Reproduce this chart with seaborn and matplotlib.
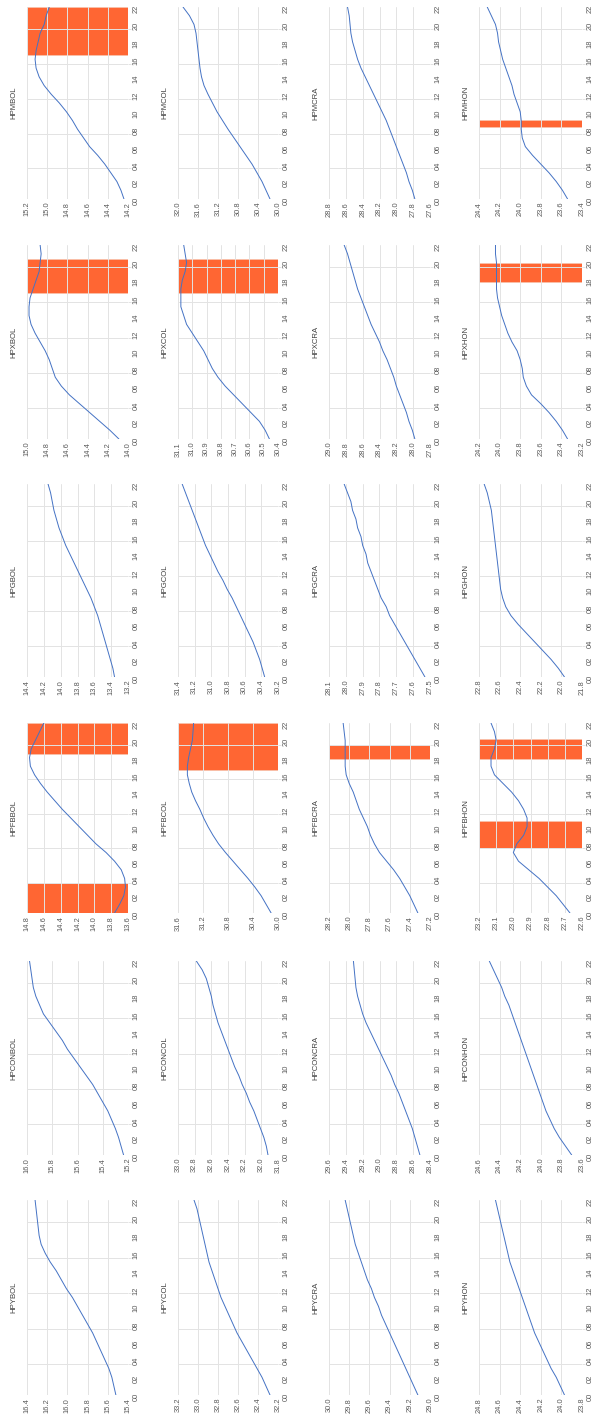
import numpy as np
import matplotlib
matplotlib.use("Agg")
import matplotlib.pyplot as plt
import seaborn as sns

sns.set_theme(style="white")
plt.rcParams["font.family"] = ["Liberation Sans", "DejaVu Sans"]

HOURS = list(range(23))
HOUR_LABELS = [f"{h:02d}" for h in range(0, 23, 2)]

# hourly series, BOL
HPYBOL = [15.52, 15.54, 15.56, 15.59, 15.63, 15.67, 15.71, 15.75, 15.80, 15.85, 15.90, 15.95,
          16.01, 16.06, 16.11, 16.17, 16.22, 16.26, 16.28, 16.29, 16.30, 16.31, 16.32]
HPCONBOL = [15.235, 15.255, 15.275, 15.30, 15.33, 15.36, 15.40, 15.44, 15.48, 15.53, 15.58, 15.63,
            15.68, 15.72, 15.77, 15.82, 15.87, 15.90, 15.93, 15.95, 15.96, 15.97, 15.98]
HPFBBOL = [13.76, 13.70, 13.65, 13.63, 13.64, 13.68, 13.76, 13.86, 13.98, 14.08, 14.18, 14.28,
           14.38, 14.47, 14.56, 14.64, 14.71, 14.76, 14.77, 14.75, 14.70, 14.65, 14.60]
HPGBOL = [13.36, 13.38, 13.41, 13.44, 13.47, 13.50, 13.53, 13.56, 13.60, 13.64, 13.69, 13.74,
          13.79, 13.84, 13.89, 13.94, 13.98, 14.02, 14.05, 14.08, 14.10, 14.12, 14.15]
HPXBOL = [14.09, 14.18, 14.28, 14.38, 14.48, 14.58, 14.66, 14.72, 14.75, 14.78, 14.82, 14.87,
          14.92, 14.96, 14.98, 14.98, 14.97, 14.94, 14.91, 14.88, 14.87, 14.86, 14.87]
HPMBOL = [14.24, 14.27, 14.31, 14.37, 14.43, 14.50, 14.58, 14.64, 14.70, 14.75, 14.81, 14.88,
          14.96, 15.03, 15.08, 15.11, 15.12, 15.11, 15.09, 15.07, 15.03, 15.01, 14.98]

# hourly series, COL
HPYCOL = [32.28, 32.32, 32.36, 32.41, 32.46, 32.51, 32.56, 32.61, 32.65, 32.69, 32.73, 32.77,
          32.80, 32.83, 32.86, 32.89, 32.91, 32.93, 32.95, 32.97, 32.99, 33.01, 33.04]
HPCONCOL = [31.92, 31.94, 31.97, 32.01, 32.05, 32.09, 32.14, 32.18, 32.23, 32.27, 32.32, 32.36,
            32.40, 32.44, 32.48, 32.52, 32.55, 32.58, 32.60, 32.63, 32.66, 32.71, 32.78]
HPFBCOL = [30.11, 30.19, 30.27, 30.37, 30.48, 30.60, 30.72, 30.84, 30.95, 31.04, 31.12, 31.19,
           31.25, 31.32, 31.38, 31.42, 31.45, 31.45, 31.43, 31.40, 31.37, 31.36, 31.35]
HPGCOL = [30.36, 30.39, 30.42, 30.46, 30.50, 30.55, 30.60, 30.65, 30.70, 30.75, 30.81, 30.86,
          30.92, 30.97, 31.02, 31.07, 31.11, 31.15, 31.19, 31.23, 31.27, 31.31, 31.35]
HPXCOL = [30.46, 30.49, 30.53, 30.59, 30.65, 30.71, 30.77, 30.82, 30.86, 30.89, 30.92, 30.96,
          31.00, 31.04, 31.06, 31.08, 31.08, 31.08, 31.07, 31.05, 31.04, 31.05, 31.06]
HPMCOL = [30.16, 30.24, 30.32, 30.42, 30.52, 30.64, 30.76, 30.88, 31.00, 31.11, 31.22, 31.31,
          31.40, 31.48, 31.53, 31.56, 31.58, 31.60, 31.62, 31.64, 31.68, 31.77, 31.90]

# hourly series, CRA
HPYCRA = [29.12, 29.16, 29.20, 29.24, 29.28, 29.32, 29.36, 29.40, 29.44, 29.48, 29.51, 29.55,
          29.58, 29.62, 29.65, 29.68, 29.71, 29.74, 29.76, 29.78, 29.80, 29.82, 29.84]
HPCONCRA = [28.52, 28.55, 28.58, 28.61, 28.65, 28.69, 28.73, 28.77, 28.82, 28.86, 28.91, 28.96,
            29.01, 29.06, 29.11, 29.16, 29.20, 29.23, 29.26, 29.28, 29.29, 29.30, 29.31]
HPFBCRA = [27.32, 27.36, 27.40, 27.45, 27.50, 27.56, 27.63, 27.70, 27.75, 27.79, 27.82, 27.86,
           27.90, 27.93, 27.96, 28.00, 28.03, 28.04, 28.04, 28.04, 28.04, 28.05, 28.06]
HPGCRA = [27.53, 27.56, 27.59, 27.62, 27.65, 27.68, 27.71, 27.74, 27.76, 27.79, 27.81, 27.83,
          27.85, 27.87, 27.88, 27.90, 27.91, 27.93, 27.94, 27.96, 27.97, 27.99, 28.01]
HPXCRA = [27.98, 28.01, 28.05, 28.08, 28.12, 28.16, 28.20, 28.23, 28.27, 28.31, 28.36, 28.40,
          28.45, 28.50, 28.54, 28.58, 28.62, 28.66, 28.69, 28.72, 28.75, 28.78, 28.82]
HPMCRA = [27.78, 27.81, 27.85, 27.88, 27.92, 27.96, 28.00, 28.04, 28.08, 28.12, 28.17, 28.22,
          28.27, 28.32, 28.37, 28.42, 28.46, 28.49, 28.52, 28.54, 28.55, 28.56, 28.58]

# hourly series, HON
HPYHON = [23.97, 24.01, 24.05, 24.10, 24.14, 24.18, 24.22, 24.26, 24.29, 24.32, 24.35, 24.38,
          24.41, 24.44, 24.47, 24.50, 24.52, 24.54, 24.56, 24.58, 24.60, 24.62, 24.64]
HPCONHON = [23.70, 23.76, 23.82, 23.87, 23.91, 23.95, 23.98, 24.01, 24.04, 24.07, 24.10, 24.13,
            24.16, 24.19, 24.22, 24.25, 24.28, 24.31, 24.35, 24.38, 24.42, 24.46, 24.50]
HPFBHON = [22.67, 22.71, 22.75, 22.80, 22.85, 22.91, 22.97, 23.00, 22.98, 22.94, 22.92, 22.92,
           22.94, 22.97, 23.01, 23.06, 23.11, 23.13, 23.13, 23.11, 23.10, 23.11, 23.13]
HPGHON = [21.97, 22.03, 22.10, 22.18, 22.26, 22.34, 22.42, 22.49, 22.54, 22.57, 22.59, 22.60,
          22.61, 22.62, 22.63, 22.64, 22.65, 22.66, 22.67, 22.68, 22.70, 22.72, 22.75]
HPXHON = [23.34, 23.39, 23.45, 23.52, 23.60, 23.69, 23.74, 23.77, 23.78, 23.80, 23.83, 23.88,
          23.92, 23.95, 23.98, 24.00, 24.02, 24.03, 24.03, 24.03, 24.03, 24.04, 24.04]
HPMHON = [23.54, 23.59, 23.65, 23.72, 23.80, 23.88, 23.95, 23.98, 23.99, 23.99, 24.00, 24.03,
          24.06, 24.08, 24.11, 24.14, 24.17, 24.19, 24.21, 24.22, 24.24, 24.28, 24.32]

SERIES = {
    "HPYBOL": HPYBOL, "HPCONBOL": HPCONBOL, "HPFBBOL": HPFBBOL,
    "HPGBOL": HPGBOL, "HPXBOL": HPXBOL, "HPMBOL": HPMBOL,
    "HPYCOL": HPYCOL, "HPCONCOL": HPCONCOL, "HPFBCOL": HPFBCOL,
    "HPGCOL": HPGCOL, "HPXCOL": HPXCOL, "HPMCOL": HPMCOL,
    "HPYCRA": HPYCRA, "HPCONCRA": HPCONCRA, "HPFBCRA": HPFBCRA,
    "HPGCRA": HPGCRA, "HPXCRA": HPXCRA, "HPMCRA": HPMCRA,
    "HPYHON": HPYHON, "HPCONHON": HPCONHON, "HPFBHON": HPFBHON,
    "HPGHON": HPGHON, "HPXHON": HPXHON, "HPMHON": HPMHON,
}

# value axis (min, max, step)
VALUE_AXES = {
    "HPYBOL": (15.4, 16.4, 0.2), "HPCONBOL": (15.2, 16.0, 0.2), "HPFBBOL": (13.6, 14.8, 0.2),
    "HPGBOL": (13.2, 14.4, 0.2), "HPXBOL": (14.0, 15.0, 0.2), "HPMBOL": (14.2, 15.2, 0.2),
    "HPYCOL": (32.2, 33.2, 0.2), "HPCONCOL": (31.8, 33.0, 0.2), "HPFBCOL": (30.0, 31.6, 0.4),
    "HPGCOL": (30.2, 31.4, 0.2), "HPXCOL": (30.4, 31.1, 0.1), "HPMCOL": (30.0, 32.0, 0.4),
    "HPYCRA": (29.0, 30.0, 0.2), "HPCONCRA": (28.4, 29.6, 0.2), "HPFBCRA": (27.2, 28.2, 0.2),
    "HPGCRA": (27.5, 28.1, 0.1), "HPXCRA": (27.8, 29.0, 0.2), "HPMCRA": (27.6, 28.8, 0.2),
    "HPYHON": (23.8, 24.8, 0.2), "HPCONHON": (23.6, 24.6, 0.2), "HPFBHON": (22.6, 23.2, 0.1),
    "HPGHON": (21.8, 22.8, 0.2), "HPXHON": (23.2, 24.2, 0.2), "HPMHON": (23.4, 24.4, 0.2),
}

# flagged hour windows (start, end)
FLAGGED = {
    "HPMBOL": [(16.5, 22.0)],
    "HPXBOL": [(16.6, 20.4)],
    "HPFBBOL": [(0.0, 3.5), (18.4, 22.0)],
    "HPXCOL": [(16.6, 20.4)],
    "HPFBCOL": [(16.6, 22.0)],
    "HPFBCRA": [(17.8, 19.5)],
    "HPFBHON": [(7.5, 10.6), (17.8, 20.2)],
    "HPXHON": [(17.8, 20.0)],
    "HPMHON": [(8.2, 9.1)],
}

STATIONS = ["HPM", "HPX", "HPG", "HPFB", "HPCON", "HPY"]
SITES = ["BOL", "COL", "CRA", "HON"]

W, H = 593, 1418
COL_LEFT = [27, 178, 329, 479]
COL_WIDTH = [101, 100, 101, 103]
ROW_SPAN = [(7, 199), (245, 439), (484, 677), (723, 913), (961, 1155), (1200, 1395)]

LINE = "#4472C4"
FLAG = "#FF6633"
GRID = "#E3E3E3"
TEXT = "#595959"
FS = 5.4

fig = plt.figure(figsize=(W / 100, H / 100), dpi=100)
fig.patch.set_facecolor("white")

for r, station in enumerate(STATIONS):
    top, bottom = ROW_SPAN[r]
    for c, site in enumerate(SITES):
        name = station + site
        left, width = COL_LEFT[c], COL_WIDTH[c]
        ax = fig.add_axes([left / W, 1 - bottom / H, width / W, (bottom - top) / H])
        ax.set_facecolor("white")

        for a, b in FLAGGED.get(name, []):
            ax.axhspan(a, b, facecolor=FLAG, edgecolor="#F7C4AE", lw=0.5, zorder=1)

        sns.lineplot(x=SERIES[name], y=HOURS, orient="y", ax=ax,
                     color=LINE, lw=0.7, zorder=3)

        lo, hi, step = VALUE_AXES[name]
        ticks = np.round(np.arange(lo, hi + step / 2, step), 2)
        ax.set_xticks(ticks)
        ax.set_xticklabels([f"{t:.1f}" for t in ticks])
        ax.set_xlim(hi, lo)

        ax.set_ylim(0, 22)
        ax.yaxis.tick_right()
        ax.set_yticks(range(0, 23, 2))
        ax.set_yticklabels(HOUR_LABELS)
        ax.set_yticks([3.5, 7.5, 11.5, 15.5, 19.5], minor=True)

        ax.set_axisbelow(False)
        ax.grid(True, axis="x", which="major", color=GRID, lw=0.7)
        ax.grid(True, axis="y", which="minor", color=GRID, lw=0.7)
        ax.grid(False, axis="y", which="major")

        ax.tick_params(axis="x", which="major", length=0, pad=2, labelsize=FS,
                       labelrotation=90, labelcolor=TEXT)
        ax.tick_params(axis="y", which="major", length=0, pad=3.5, labelsize=FS,
                       labelrotation=90, labelcolor=TEXT, right=True, left=False)
        ax.tick_params(axis="y", which="minor", length=2.2, width=0.7, color=GRID,
                       direction="out", right=True, left=False)
        for s in ax.spines.values():
            s.set_visible(False)
        ax.set_xlabel("")
        ax.set_ylabel("")

        ax.text(-13 / width, 0.5, name, transform=ax.transAxes, rotation=90,
                ha="center", va="center", fontsize=FS + 0.2, color="#404040")

fig.savefig("out.png", dpi=100, facecolor="white")
